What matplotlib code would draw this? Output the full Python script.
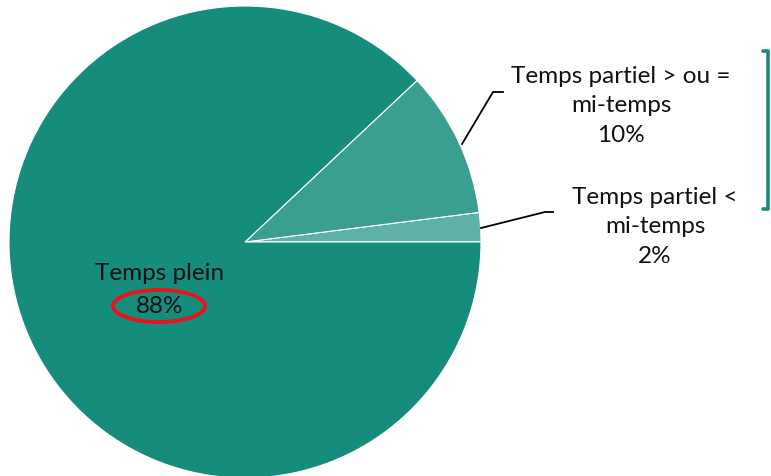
import matplotlib
matplotlib.use("Agg")
import matplotlib.pyplot as plt
from matplotlib.patches import Ellipse

categories = ["Temps partiel <\nmi-temps", "Temps partiel > ou =\nmi-temps", "Temps plein"]
values = [2, 10, 88]
colors = ["#5DB1A6", "#3A9E91", "#168C7D"]

W, H = 771, 477
fig = plt.figure(figsize=(W / 100, H / 100), dpi=100)
ax = fig.add_axes([0, 0, 1, 1])

cx, cy, r = 245, 243, 236
wedges, _ = ax.pie(values, colors=colors, startangle=0, counterclock=False,
                   center=(cx, cy), radius=r, frame=True,
                   wedgeprops=dict(edgecolor="white", linewidth=0.8))
ax.set_xlim(0, W)
ax.set_ylim(H, 0)
ax.set_aspect("equal")
ax.axis("off")

font = dict(family=["Lato", "DejaVu Sans"], fontsize=17.5, color="#111111")

ax.text(621, 106, f"{categories[1]}\n{values[1]}%", ha="center", va="center",
        linespacing=1.48, **font)
ax.text(655, 227, f"{categories[0]}\n{values[0]}%", ha="center", va="center",
        linespacing=1.48, **font)
ax.text(160, 274, categories[2], ha="center", va="center", **font)
ax.text(160, 307, f"{values[2]}%", ha="center", va="center", **font)

# leader lines
ax.plot([462, 493, 503], [145, 93, 93], color="black", lw=1.3)
ax.plot([481, 545, 553], [229, 213, 213], color="black", lw=1.3)

# red ellipse
ax.add_patch(Ellipse((159, 307), 92, 32, fill=False, edgecolor="#E8141B", lw=2.8))

# bracket
ax.plot([763, 768, 768, 763], [52, 52, 210, 210], color="#168C7D", lw=2.6,
        solid_joinstyle="round", solid_capstyle="round")

fig.savefig("out.png", dpi=100)
